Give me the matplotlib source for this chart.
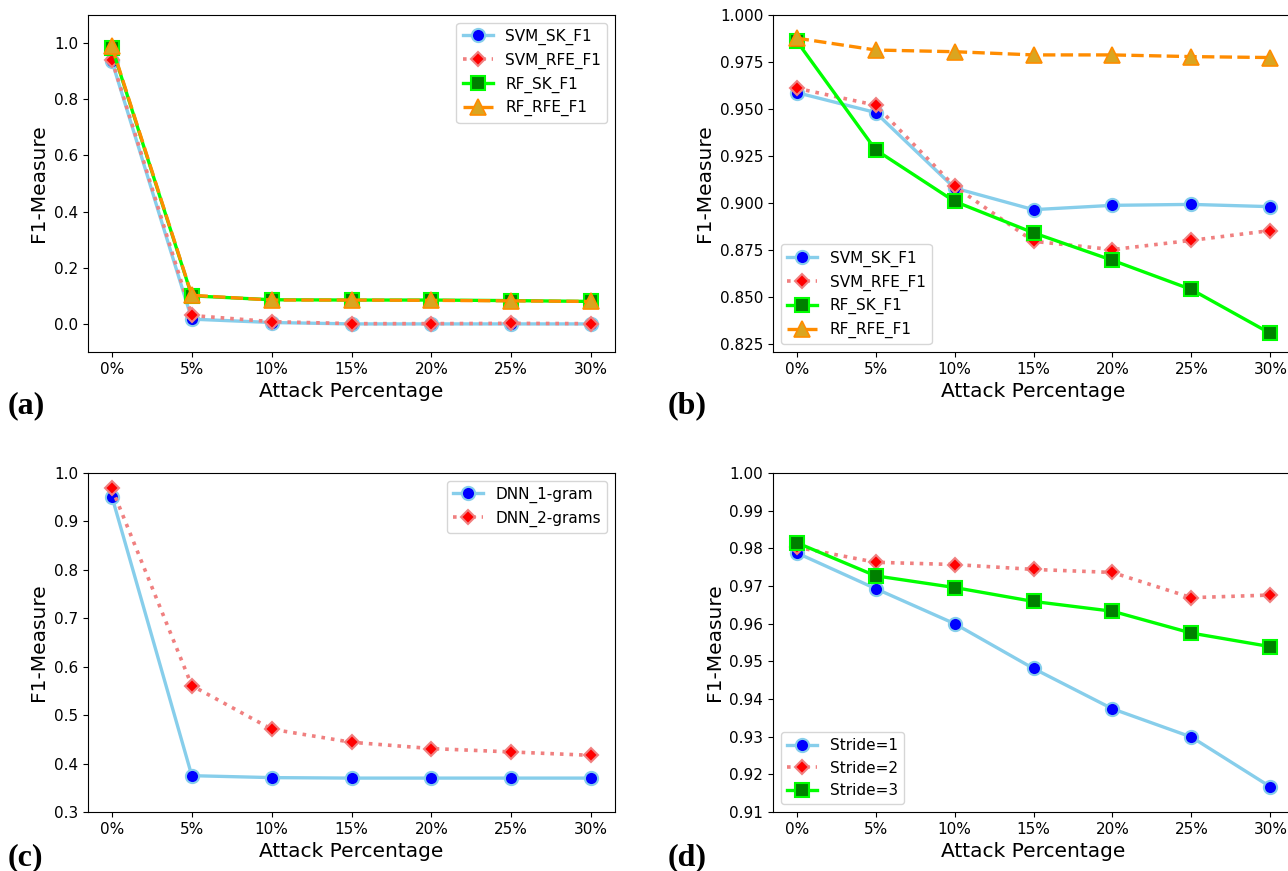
import matplotlib
matplotlib.use('Agg')
import matplotlib.pyplot as plt

# Datos
porcentajes = ['0%', '5%', '10%', '15%', '20%', '25%', '30%']
x = list(range(len(porcentajes)))

# (a)
a_svm_sk = [0.935, 0.017, 0.005, 0.0, 0.0, 0.0, 0.0]
a_svm_rfe = [0.940, 0.030, 0.008, 0.001, 0.001, 0.002, 0.001]
a_rf_sk = [0.984, 0.100, 0.086, 0.085, 0.085, 0.083, 0.080]
a_rf_rfe = [0.988, 0.102, 0.085, 0.085, 0.084, 0.082, 0.080]

# (b)
b_svm_sk = [0.9588, 0.9482, 0.9081, 0.8966, 0.8989, 0.8994, 0.8982]
b_svm_rfe = [0.9611, 0.9521, 0.9090, 0.8798, 0.8754, 0.8803, 0.8855]
b_rf_sk = [0.9862, 0.9284, 0.9010, 0.8843, 0.8697, 0.8542, 0.8309]
b_rf_rfe = [0.9877, 0.9814, 0.9805, 0.9788, 0.9788, 0.9779, 0.9774]

# (c)
c_dnn_1 = [0.951, 0.375, 0.371, 0.370, 0.370, 0.370, 0.370]
c_dnn_2 = [0.968, 0.561, 0.471, 0.444, 0.431, 0.424, 0.417]

# (d)
d_stride1 = [0.9788, 0.9693, 0.9600, 0.9481, 0.9374, 0.9299, 0.9167]
d_stride2 = [0.9803, 0.9763, 0.9757, 0.9744, 0.9736, 0.9669, 0.9676]
d_stride3 = [0.9815, 0.9727, 0.9696, 0.9659, 0.9633, 0.9575, 0.9539]

# Estilos de cada serie
est_svm_sk = dict(color='skyblue', lw=2.4, marker='o', ms=9.5, mfc='blue', mec='skyblue', mew=1.5)
est_svm_rfe = dict(color='lightcoral', lw=2.6, ls=':', marker='D', ms=7.5, mfc='red', mec='lightcoral', mew=1.5)
est_rf_sk = dict(color='lime', lw=2.4, marker='s', ms=10.5, mfc='green', mec='lime', mew=1.5)
est_rf_rfe = dict(color='darkorange', lw=2.4, ls='--', marker='^', ms=11.5, mfc='goldenrod', mec='darkorange', mew=1.2)

fig = plt.figure(figsize=(12.88, 8.71), dpi=100)
W, H = 1288.0, 871.0

def crear_ejes(x0, y0, x1, y1):
    return fig.add_axes([x0 / W, 1 - y1 / H, (x1 - x0) / W, (y1 - y0) / H])

ax_a = crear_ejes(88, 15, 615, 352)
ax_b = crear_ejes(773, 15, 1294, 352)
ax_c = crear_ejes(88, 473, 615, 812)
ax_d = crear_ejes(773, 473, 1294, 812)

# Panel (a)
ax_a.plot(x, a_svm_sk, label='SVM_SK_F1', **est_svm_sk)
ax_a.plot(x, a_svm_rfe, label='SVM_RFE_F1', **est_svm_rfe)
ax_a.plot(x, a_rf_sk, label='RF_SK_F1', **est_rf_sk)
ax_a.plot(x, a_rf_rfe, label='RF_RFE_F1', **est_rf_rfe)
ax_a.set_ylim(-0.1, 1.1)
ax_a.set_yticks([0.0, 0.2, 0.4, 0.6, 0.8, 1.0])
ax_a.legend(loc='upper right', fontsize=11)

# Panel (b)
ax_b.plot(x, b_svm_sk, label='SVM_SK_F1', **est_svm_sk)
ax_b.plot(x, b_svm_rfe, label='SVM_RFE_F1', **est_svm_rfe)
ax_b.plot(x, b_rf_sk, label='RF_SK_F1', **est_rf_sk)
ax_b.plot(x, b_rf_rfe, label='RF_RFE_F1', **est_rf_rfe)
ax_b.set_ylim(0.821, 1.0)
ax_b.set_yticks([0.825, 0.85, 0.875, 0.9, 0.925, 0.95, 0.975, 1.0])
ax_b.legend(loc='lower left', fontsize=11)

# Panel (c)
ax_c.plot(x, c_dnn_1, label='DNN_1-gram', **est_svm_sk)
ax_c.plot(x, c_dnn_2, label='DNN_2-grams', **est_svm_rfe)
ax_c.set_ylim(0.3, 1.0)
ax_c.legend(loc='upper right', fontsize=11)

# Panel (d)
ax_d.plot(x, d_stride1, label='Stride=1', **est_svm_sk)
ax_d.plot(x, d_stride2, label='Stride=2', **est_svm_rfe)
ax_d.plot(x, d_stride3, label='Stride=3', **est_rf_sk)
ax_d.set_ylim(0.91, 1.0)
ax_d.set_yticks([0.91, 0.92, 0.93, 0.94, 0.95, 0.96, 0.97, 0.98, 0.99, 1.0])
ax_d.legend(loc='lower left', fontsize=11)

for ax in [ax_a, ax_b, ax_c, ax_d]:
    ax.set_xticks(x)
    ax.set_xticklabels(porcentajes)
    ax.set_xlim(-0.3, 6.3)
    ax.tick_params(labelsize=11)
    ax.set_xlabel('Attack Percentage', fontsize=14.5)
    ax.set_ylabel('F1-Measure', fontsize=14.5)

# Etiquetas de los paneles
fuente_panel = dict(family='Liberation Serif', weight='bold', fontsize=23)
fig.text(8 / W, 1 - 413 / H, '(a)', **fuente_panel)
fig.text(668 / W, 1 - 413 / H, '(b)', **fuente_panel)
fig.text(8 / W, 1 - 865 / H, '(c)', **fuente_panel)
fig.text(668 / W, 1 - 865 / H, '(d)', **fuente_panel)

fig.savefig('out.png', dpi=100)
